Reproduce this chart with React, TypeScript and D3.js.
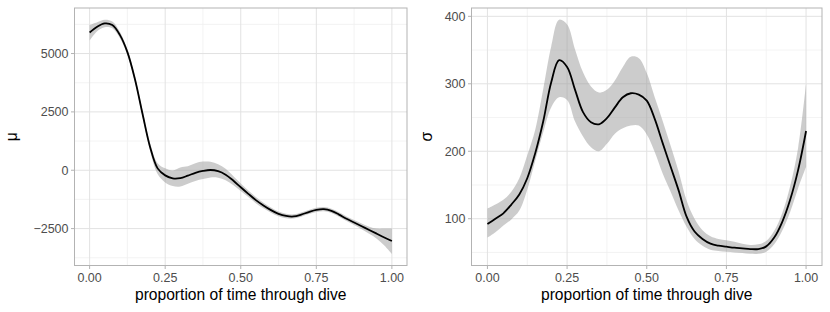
import React, { useEffect, useRef } from 'react';
import * as d3 from 'd3';

// shared x grid (proportion of time through dive)
const timeGrid = [
  0, 0.025, 0.05, 0.075, 0.1, 0.125, 0.15, 0.175, 0.2, 0.225, 0.25, 0.275, 0.3, 0.325, 0.35, 0.375,
  0.4, 0.425, 0.45, 0.475, 0.5, 0.525, 0.55, 0.575, 0.6, 0.625, 0.65, 0.675, 0.7, 0.725, 0.75, 0.775,
  0.8, 0.825, 0.85, 0.875, 0.9, 0.925, 0.95, 0.975, 1,
];

// mu panel
const muMean = [
  5900, 6150, 6290, 6220, 5800, 5060, 3900, 2420, 1000, 80, -220, -350, -340, -230, -110, -30,
  10, -40, -190, -440, -730, -1010, -1280, -1510, -1710, -1870, -1960, -1980, -1900, -1790, -1700, -1670,
  -1740, -1900, -2080, -2240, -2400, -2560, -2720, -2880, -3030,
];
const muLower = [
  5560, 5960, 6130, 6080, 5670, 4940, 3780, 2290, 840, -160, -520, -680, -700, -580, -460, -380,
  -310, -320, -430, -630, -890, -1150, -1410, -1630, -1820, -1970, -2060, -2070, -1990, -1880, -1790, -1760,
  -1830, -1990, -2180, -2350, -2530, -2720, -2930, -3220, -3580,
];
const muUpper = [
  6220, 6340, 6450, 6370, 5930, 5180, 4020, 2560, 1170, 300, 80, -10, 120, 170, 300, 370,
  360, 260, 60, -250, -570, -870, -1150, -1390, -1600, -1770, -1860, -1890, -1810, -1700, -1610, -1580,
  -1650, -1800, -1980, -2130, -2280, -2420, -2500, -2500, -2500,
];

// sigma panel
const sigmaMean = [
  92, 100, 108, 121, 136, 160, 197, 244, 302, 335, 325, 291, 258, 243, 240, 249,
  265, 280, 286, 284, 275, 248, 212, 177, 142, 103, 81, 70, 63, 60, 58.5, 57,
  56, 55, 55, 59, 72, 95, 128, 172, 230,
];
const sigmaLower = [
  72, 80, 90, 99, 112, 143, 186, 228, 265, 280, 276, 244, 222, 206, 200, 211,
  226, 234, 238, 238, 225, 199, 167, 140, 112, 88, 70, 60, 54, 52, 51, 50,
  49, 48, 48, 51, 62, 82, 110, 145, 177,
];
const sigmaUpper = [
  115, 121, 128, 140, 160, 194, 232, 292, 355, 395, 388, 351, 317, 296, 287, 291,
  305, 325, 340, 338, 316, 280, 245, 208, 170, 127, 100, 83, 74, 70, 68, 66,
  63, 61, 62, 67, 82, 108, 148, 205, 300,
];

const xTicks = [0, 0.25, 0.5, 0.75, 1];
const xMinor = [0.125, 0.375, 0.625, 0.875];
const muTicks = [-2500, 0, 2500, 5000];
const muMinor = [-3750, -1250, 1250, 3750, 6250];
const sigmaTicks = [100, 200, 300, 400];
const sigmaMinor = [50, 150, 250, 350];

const FONT = '"Liberation Sans", Arial, Helvetica, sans-serif';

interface PanelProps {
  left: number;
  right: number;
  mean: number[];
  lower: number[];
  upper: number[];
  yTicks: number[];
  yMinor: number[];
  yTitle: string;
  yTitleX: number;
}

const Panel: React.FC<PanelProps> = ({ left, right, mean, lower, upper, yTicks, yMinor, yTitle, yTitleX }) => {
  const gRef = useRef<SVGGElement>(null);

  useEffect(() => {
    if (!gRef.current) return;
    const g = d3.select(gRef.current);
    g.selectAll('*').remove();

    const top = 8;
    const bottom = 265.5;

    const xScale = d3.scaleLinear().domain([-0.05, 1.05]).range([left, right]);
    const lo = d3.min(lower) as number;
    const hi = d3.max(upper) as number;
    const pad = (hi - lo) * 0.05;
    const yScale = d3.scaleLinear().domain([lo - pad, hi + pad]).range([bottom, top]);

    // minor grid
    g.selectAll('.xminor')
      .data(xMinor)
      .enter()
      .append('line')
      .attr('x1', (d: number) => xScale(d))
      .attr('x2', (d: number) => xScale(d))
      .attr('y1', top)
      .attr('y2', bottom)
      .attr('stroke', '#f0f0f0')
      .attr('stroke-width', 0.8);
    g.selectAll('.yminor')
      .data(yMinor)
      .enter()
      .append('line')
      .attr('x1', left)
      .attr('x2', right)
      .attr('y1', (d: number) => yScale(d))
      .attr('y2', (d: number) => yScale(d))
      .attr('stroke', '#f0f0f0')
      .attr('stroke-width', 0.8);

    // major grid
    g.selectAll('.xmajor')
      .data(xTicks)
      .enter()
      .append('line')
      .attr('x1', (d: number) => xScale(d))
      .attr('x2', (d: number) => xScale(d))
      .attr('y1', top)
      .attr('y2', bottom)
      .attr('stroke', '#e2e2e2')
      .attr('stroke-width', 1);
    g.selectAll('.ymajor')
      .data(yTicks)
      .enter()
      .append('line')
      .attr('x1', left)
      .attr('x2', right)
      .attr('y1', (d: number) => yScale(d))
      .attr('y2', (d: number) => yScale(d))
      .attr('stroke', '#e2e2e2')
      .attr('stroke-width', 1);

    // ribbon
    const area = d3
      .area<number>()
      .x((_d: number, i: number) => xScale(timeGrid[i]))
      .y0((_d: number, i: number) => yScale(lower[i]))
      .y1((_d: number, i: number) => yScale(upper[i]))
      .curve(d3.curveCatmullRom.alpha(0.5));
    g.append('path')
      .datum(mean)
      .attr('fill', '#999999')
      .attr('fill-opacity', 0.5)
      .attr('d', area);

    // mean line
    const line = d3
      .line<number>()
      .x((_d: number, i: number) => xScale(timeGrid[i]))
      .y((d: number) => yScale(d))
      .curve(d3.curveCatmullRom.alpha(0.5));
    g.append('path')
      .datum(mean)
      .attr('fill', 'none')
      .attr('stroke', '#000000')
      .attr('stroke-width', 1.8)
      .attr('d', line);

    // panel border
    g.append('rect')
      .attr('x', left)
      .attr('y', top)
      .attr('width', right - left)
      .attr('height', bottom - top)
      .attr('fill', 'none')
      .attr('stroke', '#b3b3b3')
      .attr('stroke-width', 1);

    // ticks + labels
    xTicks.forEach((t) => {
      g.append('line')
        .attr('x1', xScale(t))
        .attr('x2', xScale(t))
        .attr('y1', bottom)
        .attr('y2', bottom + 3.5)
        .attr('stroke', '#b3b3b3');
      g.append('text')
        .attr('x', xScale(t))
        .attr('y', 281.5)
        .attr('text-anchor', 'middle')
        .attr('font-family', FONT)
        .attr('font-size', 12.5)
        .attr('fill', '#4d4d4d')
        .text(d3.format('.2f')(t));
    });
    yTicks.forEach((t) => {
      g.append('line')
        .attr('x1', left - 3.5)
        .attr('x2', left)
        .attr('y1', yScale(t))
        .attr('y2', yScale(t))
        .attr('stroke', '#b3b3b3');
      g.append('text')
        .attr('x', left - 6)
        .attr('y', yScale(t))
        .attr('dy', '0.35em')
        .attr('text-anchor', 'end')
        .attr('font-family', FONT)
        .attr('font-size', 12.5)
        .attr('fill', '#4d4d4d')
        .text(t < 0 ? '\u2212' + Math.abs(t) : String(t));
    });

    // axis titles
    g.append('text')
      .attr('x', (left + right) / 2)
      .attr('y', 300)
      .attr('text-anchor', 'middle')
      .attr('font-family', FONT)
      .attr('font-size', 15.6)
      .attr('fill', '#000000')
      .text('proportion of time through dive');
    g.append('text')
      .attr('transform', `translate(${yTitleX},${(top + bottom) / 2}) rotate(-90)`)
      .attr('text-anchor', 'middle')
      .attr('font-family', FONT)
      .attr('font-size', 15.6)
      .attr('fill', '#000000')
      .text(yTitle);
  }, [left, right, mean, lower, upper, yTicks, yMinor, yTitle, yTitleX]);

  return <g ref={gRef} />;
};

const App: React.FC = () => (
  <div style={{ position: 'absolute', left: 0, top: 0, width: 830, height: 312, background: '#ffffff' }}>
    <svg width={830} height={312}>
      <Panel
        left={74.5}
        right={407}
        mean={muMean}
        lower={muLower}
        upper={muUpper}
        yTicks={muTicks}
        yMinor={muMinor}
        yTitle="μ"
        yTitleX={16.5}
      />
      <Panel
        left={471.5}
        right={822}
        mean={sigmaMean}
        lower={sigmaLower}
        upper={sigmaUpper}
        yTicks={sigmaTicks}
        yMinor={sigmaMinor}
        yTitle="σ"
        yTitleX={431.5}
      />
    </svg>
  </div>
);

export default App;
